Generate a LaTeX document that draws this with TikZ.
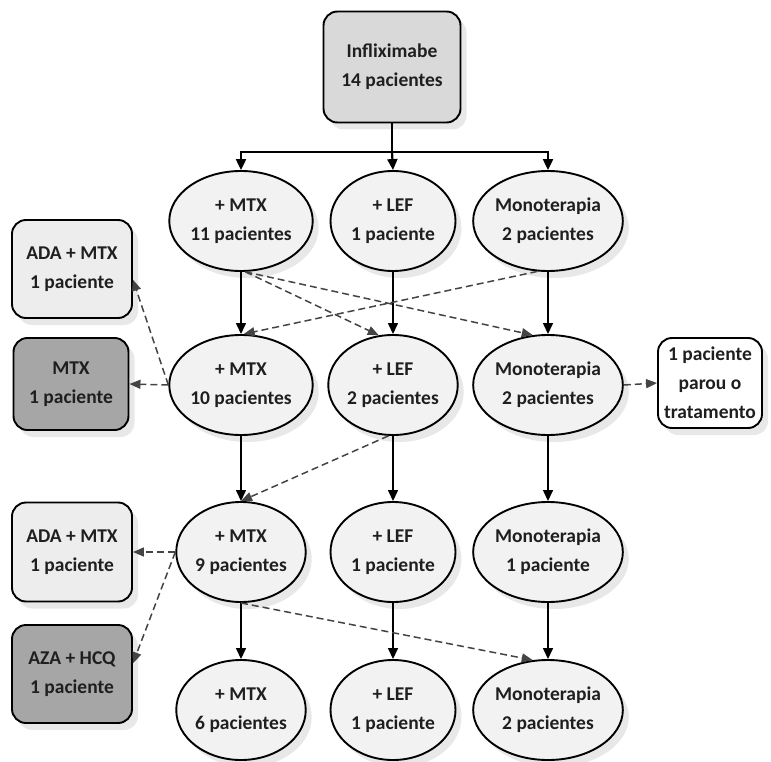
\documentclass[tikz,border=0pt]{standalone}
\usepackage{fontspec}
\setmainfont{Carlito}
\usetikzlibrary{shapes.geometric,arrows.meta,shadows,calc}
\definecolor{topfill}{HTML}{D9D9D9}
\definecolor{ellfill}{HTML}{F2F2F2}
\definecolor{ltbox}{HTML}{EDEDED}
\definecolor{dkbox}{HTML}{A6A6A6}
\definecolor{dashcol}{HTML}{444444}
\tikzset{
  base/.style={draw=black, line width=1.9pt, align=center, inner sep=0pt,
    font=\fontsize{19.5}{29}\selectfont\bfseries, text=black!88,
    drop shadow={shadow xshift=6pt, shadow yshift=-7pt, fill=black!9, opacity=1}},
  ell/.style={base, ellipse, fill=ellfill, minimum width=125pt, minimum height=100pt},
  rbox/.style={base, rectangle, rounded corners=14pt},
  solidarrow/.style={line width=1.4pt, -{Triangle[length=11pt,width=10pt]}},
  dasharrow/.style={draw=dashcol, line width=1.5pt, dash pattern=on 7pt off 4pt,
    -{Triangle[length=11pt,width=9pt]}},
}
\begin{document}
\begin{tikzpicture}[x=1pt,y=-1pt]
\useasboundingbox (0,0) rectangle (771,762);
% top
\node[rbox, fill=topfill, minimum width=137pt, minimum height=111pt] (inf) at (392,67) {Infliximabe\\14 pacientes};
% rows
\node[ell] (m1) at (241,221) {+ MTX\\11 pacientes};
\node[ell] (l1) at (393,221) {+ LEF\\1 paciente};
\node[ell] (o1) at (548,221) {Monoterapia\\2 pacientes};
\node[ell] (m2) at (241,385) {+ MTX\\10 pacientes};
\node[ell] (l2) at (393,385) {+ LEF\\2 pacientes};
\node[ell] (o2) at (548,385) {Monoterapia\\2 pacientes};
\node[ell] (m3) at (241,552) {+ MTX\\9 pacientes};
\node[ell] (l3) at (393,552) {+ LEF\\1 paciente};
\node[ell] (o3) at (548,552) {Monoterapia\\1 paciente};
\node[ell] (m4) at (241,710) {+ MTX\\6 pacientes};
\node[ell] (l4) at (393,710) {+ LEF\\1 paciente};
\node[ell] (o4) at (548,710) {Monoterapia\\2 pacientes};
% side boxes
\node[rbox, fill=ltbox, minimum width=120pt, minimum height=98pt] (ada1) at (72,269) {ADA + MTX\\1 paciente};
\node[rbox, fill=dkbox, minimum width=115pt, minimum height=92pt] (mtx) at (71,384) {MTX\\1 paciente};
\node[rbox, fill=ltbox, minimum width=120pt, minimum height=99pt] (ada2) at (72,552) {ADA + MTX\\1 paciente};
\node[rbox, fill=dkbox, minimum width=120pt, minimum height=98pt] (aza) at (72,674) {AZA + HCQ\\1 paciente};
\node[rbox, fill=white, minimum width=104pt, minimum height=90pt] (stop) at (710,383) {1 paciente\\parou o\\tratamento};
% top connectors
\coordinate (bar) at (392,152);
\draw[line width=2.2pt] (inf.south) -- (bar);
\draw[solidarrow, line width=2.2pt] (bar) -| (m1.north);
\draw[solidarrow, line width=2.2pt] (bar) -- (l1.north);
\draw[solidarrow, line width=2.2pt] (bar) -| (o1.north);
% vertical solid connectors
\foreach \a/\b in {m1/m2,l1/l2,o1/o2,m2/m3,l2/l3,o2/o3,m3/m4,l3/l4,o3/o4}
  \draw[solidarrow] (\a.south) -- (\b.north);
% dashed connectors
\draw[dasharrow] (m1.-85) -- (l2.106);
\draw[dasharrow] (m1.-85) -- (o2.107);
\draw[dasharrow] (o1.-102) -- (m2.87);
\draw[dasharrow] (m2.west) -- (mtx.east);
\draw[dasharrow] (m2.west) -- (ada1.-10);
\draw[dasharrow] (o2.east) -- (stop.west);
\draw[dasharrow] (l2.-95) -- (m3.north);
\draw[dasharrow] (m3.west) -- (ada2.east);
\draw[dasharrow] (m3.west) -- (aza.10);
\draw[dasharrow] (m3.south) -- (o4.107);
\end{tikzpicture}
\end{document}
